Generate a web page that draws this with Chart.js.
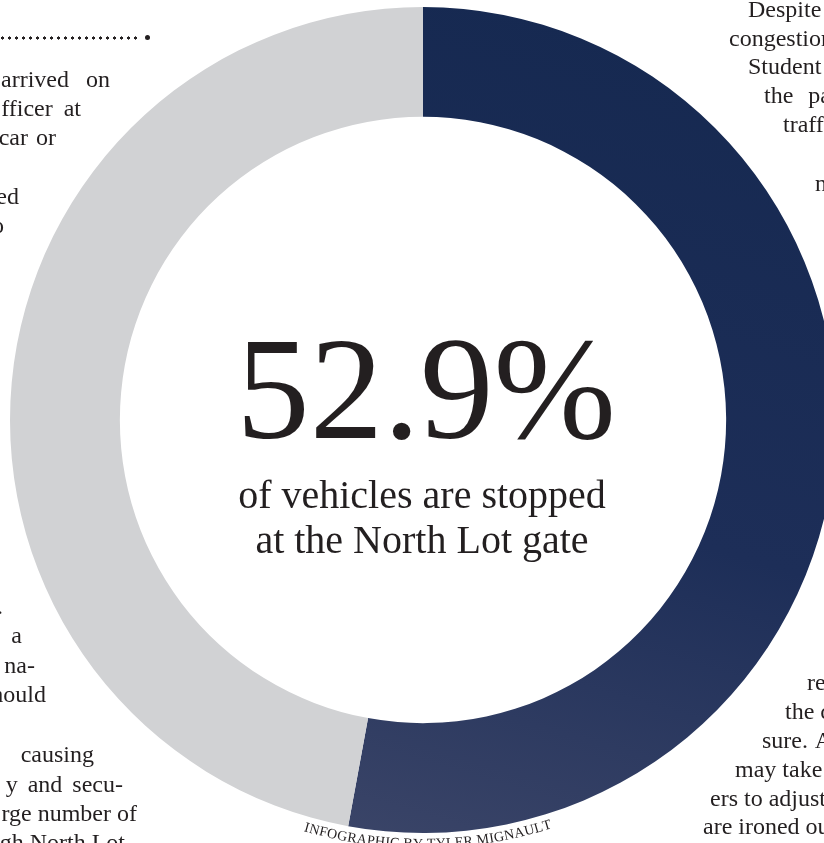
<!DOCTYPE html>
<html>
<head>
<meta charset="utf-8">
<title>North Lot gate stops</title>
<script src="https://cdn.jsdelivr.net/npm/chart.js@4.4.1/dist/chart.umd.min.js"></script>
<style>
    html, body {
        margin: 0;
        padding: 0;
        width: 824px;
        height: 843px;
        overflow: hidden;
        background: #ffffff;
    }
    #page {
        position: relative;
        width: 824px;
        height: 843px;
        overflow: hidden;
    }
    #gateChart {
        position: absolute;
        left: 0;
        top: 0;
    }
    .frag {
        position: absolute;
        white-space: nowrap;
        font-family: "Liberation Serif", "Times New Roman", serif;
        font-size: 24px;
        line-height: 24px;
        color: #231f20;
    }
    .rule-dots {
        position: absolute;
        left: 0;
        top: 35px;
        width: 141px;
        height: 6px;
        background-image: radial-gradient(circle, #231f20 1.4px, transparent 1.8px);
        background-size: 7px 6px;
        background-position: -1px 0;
    }
    .rule-end {
        position: absolute;
        left: 145px;
        top: 35px;
        width: 5px;
        height: 5px;
        border-radius: 50%;
        background: #231f20;
    }
</style>
</head>
<body>
<div id="page">
    <canvas id="gateChart" width="846" height="843"></canvas>
    <div class="rule-dots"></div>
    <div class="rule-end"></div>
</div>

<script>
// Chart data
const segmentLabels = ['Stopped at the gate', 'Not stopped'];
const segmentShares = [52.9, 47.1];
const headlineLines = ['of vehicles are stopped', 'at the North Lot gate'];
const creditText = 'INFOGRAPHIC BY TYLER MIGNAULT';

const navyStops = ['#162951', '#1d2e58', '#3b4568'];
const grayRing = '#d1d2d4';
const inkColor = '#231f20';

// Story text that wraps around the graphic: [text, anchor x, baseline y, side, word spacing]
const articleFragments = [
    ['arrived on', 110, 87, 'right', 11],
    ['fficer at', 81, 116, 'right', 5],
    ['car or', 56, 145, 'right', 2],
    ['ed', 19, 204, 'right', 0],
    ['o', 4, 233, 'right', 0],
    ['.', 3, 614, 'right', 0],
    ['a', 22, 643, 'right', 0],
    ['na-', 35, 673, 'right', 0],
    ['hould', 46, 702, 'right', 0],
    ['causing', 94, 762, 'right', 0],
    ['y and secu-', 123, 792, 'right', 4],
    ['rge number of', 137, 821, 'right', 0],
    ['gh North Lot', 125, 850, 'right', 0],
    ['Despite', 748, 17, 'left', 0],
    ['congestion', 729, 46, 'left', 0],
    ['Student', 748, 74, 'left', 0],
    ['the pa', 764, 103, 'left', 9],
    ['traffic', 783, 132, 'left', 0],
    ['n', 815, 191, 'left', 0],
    ['re', 807, 690, 'left', 0],
    ['the c', 785, 719, 'left', 0],
    ['sure. A', 762, 748, 'left', 2],
    ['may take', 735, 777, 'left', 0],
    ['ers to adjust', 710, 806, 'left', 0],
    ['are ironed out', 703, 834, 'left', 0]
];

document.addEventListener('DOMContentLoaded', function() {
    placeArticleText();
    drawGateChart();
});

function placeArticleText() {
    const page = document.getElementById('page');
    articleFragments.forEach(([text, x, baseline, side, spacing]) => {
        const el = document.createElement('div');
        el.className = 'frag';
        el.textContent = text;
        // line-height 24px: baseline sits about 20px below the box top
        el.style.top = (baseline - 20) + 'px';
        if (side === 'right') {
            el.style.right = (824 - x) + 'px';
        } else {
            el.style.left = x + 'px';
        }
        if (spacing) el.style.wordSpacing = spacing + 'px';
        page.appendChild(el);
    });
}

function navyGradient(context) {
    const chart = context.chart;
    const area = chart.chartArea;
    if (!area) return navyStops[0];
    const cx = (area.left + area.right) / 2;
    const g = chart.ctx.createLinearGradient(cx + 120, area.top, cx - 120, area.bottom);
    g.addColorStop(0, navyStops[0]);
    g.addColorStop(0.55, navyStops[1]);
    g.addColorStop(1, navyStops[2]);
    return g;
}

// Big figure in the hole plus the curved credit line under the ring
const centerLabelPlugin = {
    id: 'centerLabel',
    afterDatasetsDraw(chart) {
        const ctx = chart.ctx;
        const arc = chart.getDatasetMeta(0).data[0];
        const cx = arc.x;
        const cy = arc.y;

        ctx.save();
        ctx.fillStyle = inkColor;
        ctx.textAlign = 'center';
        ctx.textBaseline = 'alphabetic';
        ctx.font = '147px "Liberation Serif", serif';
        ctx.fillText(segmentShares[0].toFixed(1) + '%', cx + 3, cy + 18);
        ctx.font = '40px "Liberation Serif", serif';
        ctx.fillText(headlineLines[0], cx - 1, cy + 88);
        ctx.fillText(headlineLines[1], cx - 1, cy + 133);
        ctx.restore();

        drawArcText(ctx, creditText, cx, cy, arc.outerRadius + 15, Math.PI / 2 - 0.012);
    }
};

function drawArcText(ctx, text, cx, cy, radius, midAngle) {
    ctx.save();
    ctx.font = '14px "Liberation Serif", serif';
    ctx.fillStyle = inkColor;
    ctx.textAlign = 'center';
    ctx.textBaseline = 'alphabetic';
    const chars = Array.from(text);
    const widths = chars.map(ch => ctx.measureText(ch).width + 0.3);
    const total = widths.reduce((a, b) => a + b, 0);
    let angle = midAngle + total / radius / 2;
    chars.forEach((ch, i) => {
        const a = angle - widths[i] / 2 / radius;
        ctx.save();
        ctx.translate(cx + radius * Math.cos(a), cy + radius * Math.sin(a));
        ctx.rotate(a - Math.PI / 2);
        ctx.fillText(ch, 0, 0);
        ctx.restore();
        angle -= widths[i] / radius;
    });
    ctx.restore();
}

function drawGateChart() {
    const canvas = document.getElementById('gateChart');
    new Chart(canvas, {
        type: 'doughnut',
        data: {
            labels: segmentLabels,
            datasets: [{
                data: segmentShares,
                backgroundColor: function(context) {
                    return context.dataIndex === 0 ? navyGradient(context) : grayRing;
                },
                borderWidth: 0,
                hoverOffset: 0
            }]
        },
        options: {
            responsive: false,
            animation: false,
            cutout: '73.4%',
            rotation: 0,
            layout: { padding: { top: 7, bottom: 10, left: 10, right: 10 } },
            plugins: {
                legend: { display: false },
                tooltip: { enabled: false }
            }
        },
        plugins: [centerLabelPlugin]
    });
}
</script>
</body>
</html>
